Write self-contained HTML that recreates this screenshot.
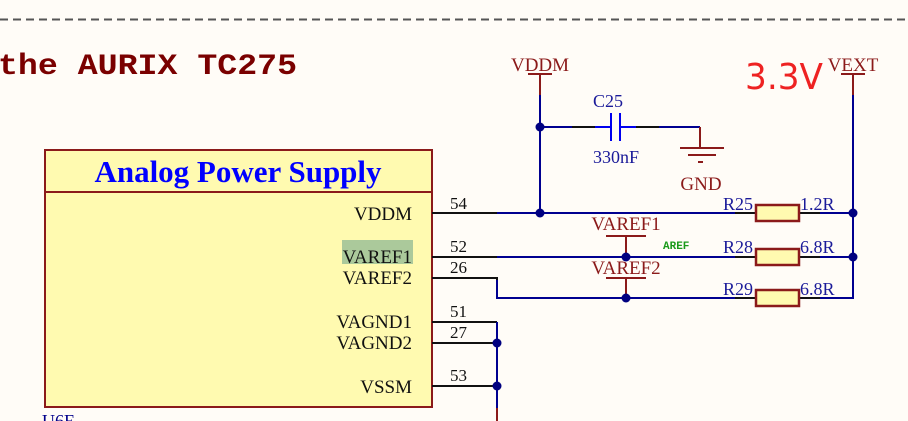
<!DOCTYPE html>
<html><head><meta charset="utf-8"><style>
html,body{margin:0;padding:0;background:#fffcf7;}
svg{display:block;}
</style></head><body>
<svg width="908" height="421" viewBox="0 0 908 421" xmlns="http://www.w3.org/2000/svg" font-family="Liberation Serif, serif">
<rect width="908" height="421" fill="#fffcf7"/>
<line x1="0" y1="19.5" x2="908" y2="19.5" stroke="#555" stroke-width="2" stroke-dasharray="8,5"/>
<text x="-2" y="74" font-family="Liberation Mono, monospace" font-weight="bold" font-size="30" fill="#7a0000" textLength="299" lengthAdjust="spacingAndGlyphs">the AURIX TC275</text>

<!-- box -->
<rect x="45" y="150" width="387" height="257" fill="#fffab0" stroke="#8b1a1a" stroke-width="2"/>
<line x1="45" y1="192" x2="432" y2="192" stroke="#8b1a1a" stroke-width="2"/>
<text x="238" y="182" text-anchor="middle" font-weight="bold" font-size="31" fill="#0000ff">Analog Power Supply</text>
<rect x="342" y="240" width="71" height="24" fill="#abc99b"/>
<g font-size="19" fill="#111" text-anchor="end">
<text x="412" y="220">VDDM</text>
<text x="412" y="263">VAREF1</text>
<text x="412" y="284">VAREF2</text>
<text x="412" y="328">VAGND1</text>
<text x="412" y="349">VAGND2</text>
<text x="412" y="393">VSSM</text>
</g>
<g font-size="17" fill="#111">
<text x="450" y="209">54</text>
<text x="450" y="252">52</text>
<text x="450" y="273">26</text>
<text x="450" y="317">51</text>
<text x="450" y="338">27</text>
<text x="450" y="381">53</text>
</g>
<text x="42" y="427" font-size="18" fill="#00008b">U6E</text>

<g stroke="#111" stroke-width="2" fill="none">
<line x1="432" y1="213" x2="497" y2="213"/>
<line x1="432" y1="257" x2="497" y2="257"/>
<polyline points="432,278 497,278 497,280"/>
<polyline points="432,322 497,322"/>
<line x1="432" y1="343" x2="497" y2="343"/>
<line x1="432" y1="386" x2="497" y2="386"/>
<line x1="572" y1="127" x2="595" y2="127"/>
<line x1="636" y1="127" x2="659" y2="127"/>
<line x1="735" y1="213" x2="756" y2="213"/><line x1="799" y1="213" x2="820" y2="213"/>
<line x1="735" y1="257" x2="756" y2="257"/><line x1="799" y1="257" x2="820" y2="257"/>
<line x1="735" y1="298" x2="756" y2="298"/><line x1="799" y1="298" x2="820" y2="298"/>
</g>

<g stroke="#000090" stroke-width="2" fill="none">
<line x1="497" y1="213" x2="735" y2="213"/><line x1="820" y1="213" x2="853" y2="213"/>
<line x1="497" y1="257" x2="735" y2="257"/><line x1="820" y1="257" x2="853" y2="257"/>
<polyline points="497,280 497,298 735,298"/><polyline points="820,298 853,298 853,95"/>
<line x1="540" y1="95" x2="540" y2="213"/>
<line x1="540" y1="127" x2="572" y2="127"/>
<polyline points="659,127 700,127"/>
<line x1="497" y1="322" x2="497" y2="408"/>
</g>
<g stroke="#0000ee" stroke-width="2" fill="none">
<line x1="595" y1="127" x2="611" y2="127"/>
<line x1="620" y1="127" x2="636" y2="127"/>
<line x1="611" y1="113" x2="611" y2="141"/>
<line x1="620" y1="113" x2="620" y2="141"/>
</g>

<g stroke="#8b1a1a" stroke-width="2" fill="none">
<line x1="528" y1="74" x2="552" y2="74"/><line x1="540" y1="74" x2="540" y2="95"/>
<line x1="841" y1="74" x2="865" y2="74"/><line x1="853" y1="74" x2="853" y2="95"/>
<line x1="700" y1="127" x2="700" y2="148"/>
<line x1="680" y1="148" x2="724" y2="148"/>
<line x1="688" y1="155" x2="716" y2="155"/>
<line x1="698" y1="162" x2="703" y2="162"/>
<line x1="606" y1="236" x2="646" y2="236"/><line x1="626" y1="236" x2="626" y2="257"/>
<line x1="606" y1="278" x2="646" y2="278"/><line x1="626" y1="278" x2="626" y2="298"/>
<line x1="497" y1="408" x2="497" y2="421"/>
</g>
<g fill="#fffab0" stroke="#8b1a1a" stroke-width="2.5">
<rect x="756" y="205" width="43" height="16"/>
<rect x="756" y="249" width="43" height="16"/>
<rect x="756" y="290" width="43" height="16"/>
</g>

<g fill="#000080">
<circle cx="540" cy="213" r="4.5"/><circle cx="540" cy="127" r="4.5"/>
<circle cx="853" cy="213" r="4.5"/><circle cx="853" cy="257" r="4.5"/>
<circle cx="626" cy="257" r="4.5"/><circle cx="626" cy="298" r="4.5"/>
<circle cx="497" cy="343" r="4.5"/><circle cx="497" cy="386" r="4.5"/>
</g>

<g font-size="19" fill="#8b1a1a" text-anchor="middle">
<text x="540" y="71">VDDM</text>
<text x="853" y="71">VEXT</text>
<text x="701" y="190">GND</text>
<text x="626" y="230">VAREF1</text>
<text x="626" y="274">VAREF2</text>
</g>
<g font-size="18" fill="#1a1a99">
<text x="608" y="107" text-anchor="middle">C25</text>
<text x="616" y="163" text-anchor="middle">330nF</text>
<text x="723" y="210">R25</text><text x="800" y="210">1.2R</text>
<text x="723" y="253">R28</text><text x="800" y="253">6.8R</text>
<text x="723" y="295">R29</text><text x="800" y="295">6.8R</text>
</g>
<text x="663" y="249" font-family="Liberation Mono, monospace" font-weight="bold" font-size="11" fill="#1a9a1a">AREF</text>
<text x="745" y="89" font-family="DejaVu Sans, sans-serif" font-size="36" fill="#ee2222" textLength="78" lengthAdjust="spacingAndGlyphs">3.3V</text>
</svg>
</body></html>
